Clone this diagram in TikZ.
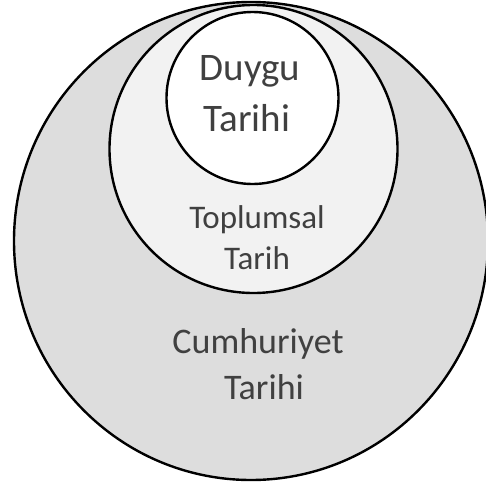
\documentclass[tikz,border=0pt]{standalone}
\usepackage{fontspec}
\setmainfont{Carlito}
\definecolor{outerfill}{HTML}{DDDDDD}
\definecolor{midfill}{HTML}{F2F2F2}
\definecolor{txt}{HTML}{404040}
\begin{document}
\begin{tikzpicture}[x=1pt,y=-1pt,
  ring/.style={draw=black,line width=2.4pt},
  lbl/.style={text=txt,align=center,inner sep=0pt,anchor=base}]
\useasboundingbox (0,0) rectangle (486,490);
\fill[white] (0,0) rectangle (486,490);
\draw[ring,fill=outerfill] (251,241) ellipse [x radius=237, y radius=239];
\draw[ring,fill=midfill] (253.5,149) circle [radius=144];
\draw[ring,fill=white] (252.5,98) circle [radius=86];
\node[lbl,font=\fontsize{39}{39}\selectfont] (duygu1) at (250,80) {Duygu};
\node[lbl,font=\fontsize{39}{39}\selectfont] (duygu2) at (247,131) {Tarihi};
\node[lbl,font=\fontsize{33}{33}\selectfont] (top1) at (257,228) {Toplumsal};
\node[lbl,font=\fontsize{33}{33}\selectfont] (top2) at (257,269) {Tarih};
\node[lbl,font=\fontsize{36}{36}\selectfont] (cum1) at (258,353) {Cumhuriyet};
\node[lbl,font=\fontsize{36}{36}\selectfont] (cum2) at (264,399) {Tarihi};
\end{tikzpicture}
\end{document}
